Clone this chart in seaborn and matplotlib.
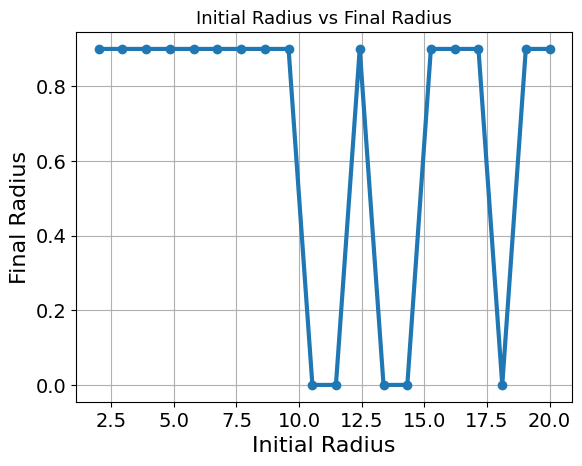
import numpy as np
import pandas as pd
import matplotlib
matplotlib.use("Agg")
import matplotlib.pyplot as plt
import seaborn as sns

# values
initial_radius = [2.00, 2.95, 3.89, 4.84, 5.79, 6.74, 7.68, 8.63, 9.58, 10.53,
                  11.47, 12.42, 13.37, 14.32, 15.26, 16.21, 17.16, 18.11, 19.05, 20.00]
final_radius = [0.9, 0.9, 0.9, 0.9, 0.9, 0.9, 0.9, 0.9, 0.9, 0.0,
                0.0, 0.9, 0.0, 0.0, 0.9, 0.9, 0.9, 0.0, 0.9, 0.9]

df = pd.DataFrame({"Initial Radius": initial_radius, "Final Radius": final_radius})

fig, ax = plt.subplots(figsize=(6.4, 4.8), dpi=100)
sns.lineplot(data=df, x="Initial Radius", y="Final Radius", marker="o",
             linewidth=3, markersize=7, markeredgewidth=0, color="#1f77b4", ax=ax)

ax.set_title("Initial Radius vs Final Radius", fontsize=13)
ax.set_xlabel("Initial Radius", fontsize=16)
ax.set_ylabel("Final Radius", fontsize=16)
ax.tick_params(labelsize=14)
ax.grid(True)

plt.savefig("out.png", bbox_inches="tight")
